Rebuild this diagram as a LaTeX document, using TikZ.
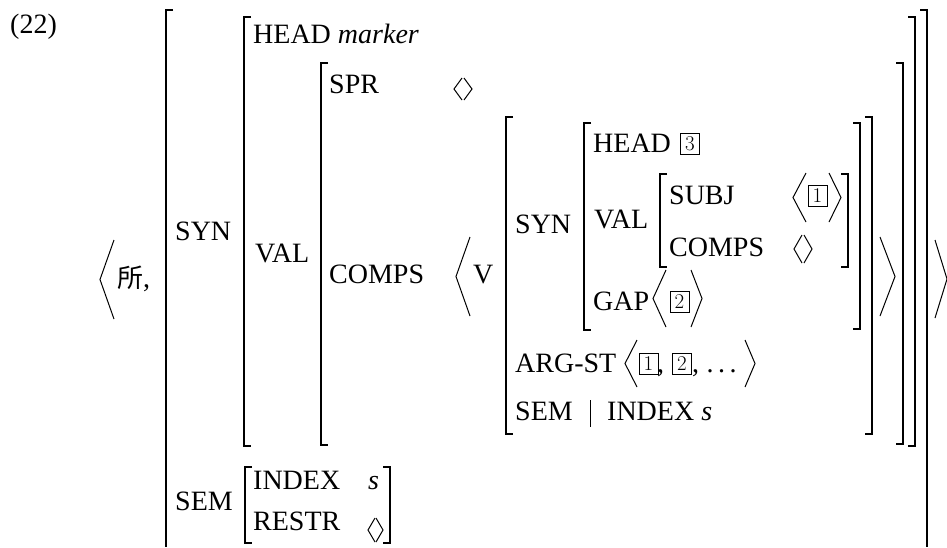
\documentclass[tikz,border=0pt]{standalone}
\usepackage{fontspec}
\setmainfont{Liberation Serif}
\newfontfamily\cjk{Noto Sans CJK SC}
\newcommand\bxd[1]{{\fontfamily{lmr}\fontsize{21}{21}\selectfont #1}}
\newcommand\lbrk[3]{\draw[brk] ({#1+7},#2) -- (#1,#2) -- (#1,#3) -- ({#1+7},#3);}
\newcommand\rbrk[3]{\draw[brk] ({#1-7},#2) -- (#1,#2) -- (#1,#3) -- ({#1-7},#3);}
\newcommand\langl[4]{\draw[ang] (#2,#3) -- (#1,{(#3+#4)/2}) -- (#2,#4);}
\newcommand\rangl[4]{\draw[ang] (#1,#3) -- (#2,{(#3+#4)/2}) -- (#1,#4);}
\begin{document}
\begin{tikzpicture}[x=1pt,y=-1pt,
  lbl/.style={anchor=base west,inner sep=0pt,font=\fontsize{28}{34}\selectfont},
  brk/.style={line width=1.4pt},
  ang/.style={line width=1pt},
  numbox/.style={draw,line width=0.7pt,minimum width=19pt,minimum height=21pt,inner sep=0pt}]
\useasboundingbox (0,0) rectangle (947,547);
% labels
\node[lbl] (ex) at (10,33) {(22)};
\node[lbl] (suo) at (117,287) {{\cjk\fontsize{26}{26}\selectfont 所},};
\node[lbl] (syn1) at (175,240) {SYN};
\node[lbl] (head1) at (253,43) {HEAD \textit{marker}};
\node[lbl] (val1) at (255,262) {VAL};
\node[lbl] (spr) at (329,93) {SPR};
\node[lbl] (comps1) at (329,283) {COMPS};
\node[lbl] (v) at (473,283) {V};
\node[lbl] (syn2) at (515,233) {SYN};
\node[lbl] (head2) at (593,152) {HEAD};
\node[numbox] (b3) at (690,143.5) {\bxd{3}};
\node[lbl] (val2) at (594,228) {VAL};
\node[lbl] (subj) at (669,204) {SUBJ};
\node[numbox] (b1a) at (817.5,196) {\bxd{1}};
\node[lbl] (comps2) at (669,256) {COMPS};
\node[lbl] (gap) at (593,310) {GAP};
\node[numbox] (b2a) at (679.5,301.5) {\bxd{2}};
\node[lbl] (argst) at (515,372) {ARG-ST};
\node[numbox] (b1b) at (648.5,363.5) {\bxd{1}};
\node[lbl] (c1) at (657,372) {,};
\node[numbox] (b2b) at (682,363.5) {\bxd{2}};
\node[lbl] (c2) at (692,372) {,};
\node[lbl] (dots) at (706.5,372) {.\kern4.5pt.\kern4.5pt.};
\node[lbl] (sem2) at (515,420) {SEM};
\node[lbl] (index2) at (607,420) {INDEX \textit{s}};
\node[lbl] (sem1) at (175,510) {SEM};
\node[lbl] (index1) at (253,489) {INDEX};
\node[lbl] (s1) at (368,489) {\textit{s}};
\node[lbl] (restr) at (253,530) {RESTR};
\draw[line width=0.8pt] (590,400) -- (590,427);
% brackets
\draw[brk] (173,10) -- (166,10) -- (166,547);
\draw[brk] (920,10) -- (927,10) -- (927,547);
\lbrk{244}{17}{446}
\rbrk{915}{17}{446}
\lbrk{321}{63}{445}
\rbrk{903}{63}{444}
\lbrk{506}{117}{434}
\rbrk{872}{117}{434}
\lbrk{584}{123}{330}
\rbrk{860}{123}{329}
\lbrk{660}{174}{267}
\rbrk{848}{174}{267}
\lbrk{245}{467}{543}
\rbrk{390}{467}{543}
% big angles
\langl{100}{114}{240}{319}
\rangl{935}{947}{240}{318}
\langl{456}{470}{237}{316}
\rangl{880}{895}{237}{316}
\langl{793}{806}{173}{222}
\rangl{829}{841}{173}{222}
\langl{653}{666}{270}{327}
\rangl{691}{702}{270}{327}
\langl{625}{637}{340}{387}
\rangl{745}{755}{340}{387}
% small angles
\langl{454}{462}{78}{100}
\rangl{464}{472}{78}{100}
\langl{794}{802}{235}{263}
\rangl{804}{812}{235}{263}
\langl{368}{375}{518}{542}
\rangl{376}{383}{518}{542}
\end{tikzpicture}
\end{document}
